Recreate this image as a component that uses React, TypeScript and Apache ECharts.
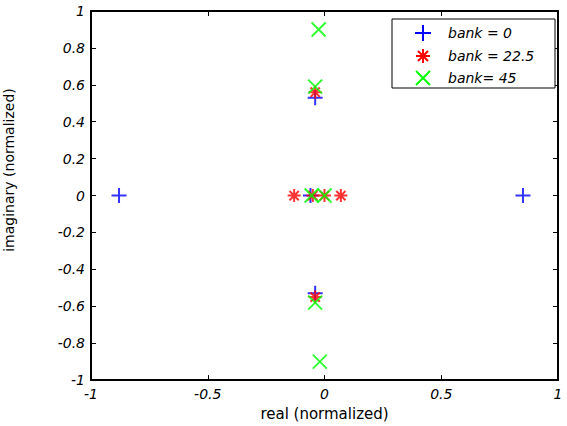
import React, { useEffect, useRef } from "react";
import * as echarts from "echarts";

// ---- data ----
const xTicks = [-1, -0.5, 0, 0.5, 1];
const seriesNames = ["bank = 0", "bank = 22.5", "bank= 45"];
const bank0Re = [-0.88, 0.85, -0.04, -0.04, -0.06];
const bank0Im = [0, 0, 0.53, -0.53, 0];
const bank225Re = [-0.13, 0.07, -0.05, 0.0, -0.04, -0.04];
const bank225Im = [0, 0, 0, 0, 0.56, -0.55];
const bank45Re = [-0.055, 0.0, -0.04, -0.04, -0.025, -0.02];
const bank45Im = [0, 0, 0.59, -0.58, 0.9, -0.9];
const xName = "real (normalized)";
const yName = "imaginary (normalized)";

const colors = ["#0000ff", "#ff0000", "#00ff00"];
const PLUS = "path://M0,8L16,8M8,0L8,16";
const XMARK = "path://M0,0L16,16M0,16L16,0";
const STAR = "path://M0,8L16,8M8,0L8,16M2.3,2.3L13.7,13.7M2.3,13.7L13.7,2.3";
const symbols = [PLUS, STAR, XMARK];
const sizes = [15, 13, 14];

const FONT = "DejaVu Sans";

function zip(a: number[], b: number[]) {
  return a.map((v, i) => [v, b[i]]);
}

function legendIcon(kind: number, cx: number, cy: number, color: string) {
  const s = { stroke: color, lineWidth: 2 };
  const mk = (x1: number, y1: number, x2: number, y2: number) => ({
    type: "line",
    z: 101,
    shape: { x1: cx + x1, y1: cy + y1, x2: cx + x2, y2: cy + y2 },
    style: s,
  });
  if (kind === 0) return [mk(-8, 0, 8, 0), mk(0, -8, 0, 8)];
  if (kind === 1)
    return [mk(-7, 0, 7, 0), mk(0, -7, 0, 7), mk(-5, -5, 5, 5), mk(-5, 5, 5, -5)];
  return [mk(-7, -7, 7, 7), mk(-7, 7, 7, -7)];
}

export default function App() {
  const ref = useRef<HTMLDivElement>(null);
  useEffect(() => {
    if (!ref.current) return;
    const chart = echarts.init(ref.current, null, { renderer: "svg" });
    const datasets = [zip(bank0Re, bank0Im), zip(bank225Re, bank225Im), zip(bank45Re, bank45Im)];
    const grid = { left: 91, right: 9, top: 11, bottom: 43 };
    const axisCommon = {
      type: "value",
      min: -1,
      max: 1,
      axisLine: { show: true, onZero: false, lineStyle: { color: "#000", width: 2 } },
      axisTick: { show: true, inside: true, length: 5, lineStyle: { color: "#000", width: 1 } },
      splitLine: { show: false },
    };
    const labelStyle = {
      color: "#000",
      fontStyle: "italic",
      fontFamily: FONT,
      fontSize: 14,
    };
    const legendEls: any[] = [
      {
        type: "rect",
        z: 100,
        shape: { x: 392, y: 19, width: 163, height: 69 },
        style: { fill: "#fff", stroke: "#000", lineWidth: 1 },
      },
    ];
    const rowY = [33, 56, 78];
    seriesNames.forEach((n, i) => {
      legendEls.push(...legendIcon(i, 423, rowY[i], colors[i]));
      legendEls.push({
        type: "text",
        z: 101,
        x: 448,
        y: rowY[i],
        style: {
          text: n,
          fill: "#000",
          fontFamily: FONT,
          fontStyle: "italic",
          fontSize: 14,
          align: "left",
          verticalAlign: "middle",
        },
      });
    });
    chart.setOption({
      animation: false,
      backgroundColor: "#fff",
      grid,
      xAxis: [
        {
          ...axisCommon,
          interval: 0.5,
          position: "bottom",
          name: xName,
          nameLocation: "middle",
          nameGap: 17,
          nameTextStyle: { color: "#000", fontFamily: FONT, fontSize: 15, verticalAlign: "top" },
          axisLabel: { ...labelStyle, margin: 7, customValues: xTicks },
        },
        {
          ...axisCommon,
          interval: 0.5,
          position: "top",
          axisLabel: { show: false },
        },
      ],
      yAxis: [
        {
          ...axisCommon,
          interval: 0.2,
          position: "left",
          axisLabel: {
            ...labelStyle,
            margin: 6,
            formatter: (v: number) => {
              const r = Math.round(v * 10) / 10;
              return String(r === 0 ? 0 : r);
            },
          },
        },
        {
          ...axisCommon,
          interval: 0.2,
          position: "right",
          axisLabel: { show: false },
        },
      ],
      series: datasets.map((d, i) => ({
        type: "scatter",
        name: seriesNames[i],
        data: d,
        symbol: symbols[i],
        symbolSize: sizes[i],
        itemStyle: { color: "rgba(0,0,0,0)", borderColor: colors[i], borderWidth: 2 },
        emphasis: { disabled: true },
        z: 3 + i,
      })),
      graphic: [
        {
          type: "text",
          x: 16,
          y: 170,
          rotation: Math.PI / 2,
          style: {
            text: yName,
            fill: "#000",
            fontFamily: FONT,
            fontSize: 14,
            align: "center",
            verticalAlign: "bottom",
          },
        },
        ...legendEls,
      ],
    });
    return () => chart.dispose();
  }, []);
  return (
    <div
      ref={ref}
      style={{ position: "absolute", left: 0, top: 0, width: 567, height: 426 }}
    />
  );
}
